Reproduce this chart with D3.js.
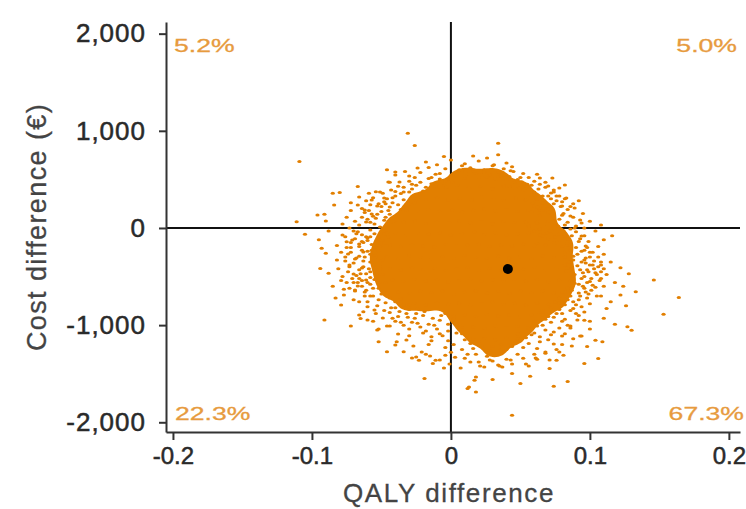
<!DOCTYPE html>
<html>
<head>
<meta charset="utf-8">
<script src="https://cdn.jsdelivr.net/npm/d3@7"></script>
<style>
  body { margin: 0; background: #fff; }
  svg { display: block; }
</style>
</head>
<body>
<script>
// Axis ticks
const xTicks = [-0.2, -0.1, 0, 0.1, 0.2];
const yTicks = [-2000, -1000, 0, 1000, 2000];

// Share of simulations falling in each quadrant of the plane
const quadrantLabels = ["5.2%", "5.0%", "22.3%", "67.3%"];
const quadrantCorners = ["nw", "ne", "sw", "se"];

// Mean incremental effect [QALY, cost €]
const meanDifference = [0.041, -423];

// Simulated [QALY difference, cost difference €] pairs in the high-density centre
const coreDraws = [
  [0.004,532],[0.012,556],[0.020,527],[0.028,549],[0.036,536],
  [-0.011,428],[-0.003,418],[0.005,436],[0.013,411],[0.021,428],[0.030,404],[0.038,432],[0.045,415],[0.053,421],
  [-0.026,305],[-0.018,296],[-0.010,312],[-0.002,287],[0.006,306],[0.015,291],[0.022,318],[0.031,299],[0.038,284],[0.047,309],[0.054,290],[0.062,296],
  [-0.032,181],[-0.024,176],[-0.016,190],[-0.008,171],[0.001,186],[0.008,165],[0.016,183],[0.024,197],[0.032,174],[0.040,188],[0.048,169],[0.056,182],[0.064,187],[0.071,174],
  [-0.042,63],[-0.034,58],[-0.026,71],[-0.018,49],[-0.010,66],[-0.001,54],[0.006,75],[0.014,52],[0.022,63],[0.030,44],[0.038,68],[0.046,57],[0.054,62],[0.062,55],[0.070,66],
  [-0.048,-62],[-0.040,-56],[-0.032,-71],[-0.024,-49],[-0.016,-64],[-0.008,-53],[0.000,-70],[0.008,-58],[0.017,-45],[0.024,-66],[0.032,-52],[0.040,-74],[0.048,-61],[0.056,-48],[0.064,-69],[0.072,-57],[0.079,-66],
  [-0.052,-181],[-0.044,-176],[-0.036,-188],[-0.028,-169],[-0.020,-184],[-0.012,-193],[-0.004,-171],[0.004,-186],[0.012,-178],[0.020,-164],[0.028,-190],[0.036,-175],[0.044,-183],[0.052,-168],[0.060,-191],[0.068,-177],[0.076,-186],[0.084,-174],
  [-0.054,-305],[-0.046,-297],[-0.038,-311],[-0.030,-289],[-0.022,-304],[-0.014,-318],[-0.006,-293],[0.002,-306],[0.010,-284],[0.018,-301],[0.026,-315],[0.034,-292],[0.042,-308],[0.050,-296],[0.058,-313],[0.066,-287],[0.074,-303],[0.082,-296],
  [-0.052,-424],[-0.044,-418],[-0.036,-432],[-0.028,-409],[-0.020,-426],[-0.012,-414],[-0.004,-437],[0.004,-421],[0.012,-406],[0.020,-429],[0.028,-416],[0.036,-434],[0.044,-411],[0.052,-425],[0.060,-408],[0.068,-431],[0.076,-419],[0.084,-413],
  [-0.050,-544],[-0.042,-537],[-0.034,-551],[-0.026,-528],[-0.018,-546],[-0.010,-533],[-0.002,-556],[0.006,-541],[0.014,-527],[0.022,-549],[0.030,-536],[0.038,-552],[0.046,-531],[0.054,-545],[0.062,-529],[0.070,-554],[0.078,-538],[0.086,-547],
  [-0.046,-663],[-0.038,-657],[-0.030,-671],[-0.022,-648],[-0.014,-665],[-0.006,-652],[0.002,-676],[0.010,-661],[0.018,-647],[0.026,-669],[0.034,-655],[0.042,-672],[0.050,-651],[0.058,-664],[0.066,-649],[0.074,-668],[0.082,-656],
  [-0.034,-781],[-0.026,-776],[-0.018,-791],[-0.010,-768],[-0.002,-785],[0.006,-772],[0.014,-796],[0.022,-779],[0.030,-765],[0.038,-788],[0.046,-774],[0.054,-792],[0.062,-770],[0.070,-784],[0.078,-776],
  [0.002,-905],[0.010,-897],[0.018,-912],[0.026,-889],[0.034,-906],[0.042,-893],[0.050,-915],[0.058,-899],[0.066,-893],
  [0.008,-1021],[0.016,-1016],[0.024,-1031],[0.032,-1008],[0.040,-1026],[0.048,-1013],[0.056,-1024],
  [0.016,-1143],[0.024,-1137],[0.032,-1151],[0.040,-1128],[0.048,-1139],
  [0.028,-1262],[0.036,-1255]
];

// Simulated [QALY difference, cost difference €] pairs around the centre and in the tails
const outerDraws = [
  [-0.031,975],[-0.026,850],[-0.109,683],[-0.005,735],[0.034,873],[0.034,753],
  [-0.046,598],[-0.040,546],[-0.016,622],[-0.011,553],[-0.022,570],[-0.004,610],[0.008,640],[0.016,580],[0.024,600],[0.031,650],[0.043,590],[0.052,560],[0.062,553],[-0.033,580],[0.042,529],[0.045,580],[0.082,443],[0.074,392],[0.051,477],[0.054,409],
  [0.008,590],[0.024,575],[-0.002,500],[0.032,505],
  [-0.014,520],[-0.008,505],[-0.012,460],[-0.005,440],[0.001,470],[-0.018,420],[-0.010,400],[0.040,500],[0.046,470],[0.050,520],[0.042,430],[0.049,415],[0.055,450],[-0.030,480],[-0.038,430],[-0.044,470],[-0.025,440],[0.060,480],[0.068,420],
  [-0.022,350],[-0.028,320],[-0.034,290],[-0.026,260],[-0.032,210],[-0.038,240],[-0.030,370],[-0.040,330],[0.058,340],[0.062,300],[0.060,230],[0.066,260],[0.064,200],[-0.046,300],[-0.054,374],[-0.049,357],[-0.059,357],[-0.067,426],[-0.052,250],[-0.061,280],[-0.044,215],[0.070,330],[0.076,280],[0.072,360],[0.082,300],[0.088,250],[0.079,220],[-0.085,357],[-0.080,364],
  [-0.062,160],[-0.056,120],[-0.050,170],[-0.044,140],[-0.038,110],[-0.048,80],[-0.055,40],[-0.060,90],[-0.042,30],[-0.066,30],[-0.051,10],
  [0.058,170],[0.064,130],[0.070,160],[0.062,70],[0.068,40],[0.074,100],[0.080,130],[0.076,20],[0.084,60],[0.088,110],[0.056,20],[0.090,20],
  [-0.084,237],[-0.067,237],[-0.096,134],[-0.091,141],[-0.111,65],[-0.090,72],[-0.075,110],[-0.072,180],[-0.078,40],[0.095,150],[0.100,70],[0.108,30],[0.096,0],
  [-0.070,-30],[-0.064,-70],[-0.058,-20],[-0.052,-110],[-0.046,-50],[-0.072,-150],[-0.066,-190],[-0.060,-130],[-0.054,-200],[-0.048,-160],[-0.076,-90],[-0.045,-90],
  [0.060,-30],[0.066,-80],[0.072,-20],[0.078,-60],[0.084,-110],[0.090,-40],[0.096,-80],[0.074,-150],[0.080,-190],[0.086,-170],[0.092,-140],[0.098,-200],[0.070,-110],[0.062,-160],
  [-0.105,-65],[-0.078,-72],[-0.075,-141],[-0.088,-30],[-0.082,-180],[-0.095,-120],[0.104,-30],[0.110,-120],[0.106,-190],[0.116,-80],
  [-0.072,-250],[-0.066,-290],[-0.060,-240],[-0.054,-280],[-0.049,-330],[-0.070,-360],[-0.063,-400],[-0.057,-350],[-0.051,-420],[-0.074,-450],[-0.068,-490],[-0.061,-470],[-0.055,-530],[-0.049,-480],[-0.070,-560],[-0.064,-600],[-0.058,-580],[-0.052,-620],[-0.047,-560],
  [0.082,-250],[0.088,-290],[0.094,-240],[0.100,-300],[0.085,-350],[0.091,-390],[0.097,-360],[0.103,-420],[0.083,-440],[0.089,-480],[0.095,-460],[0.101,-520],[0.086,-540],[0.092,-580],[0.098,-560],[0.104,-610],[0.084,-620],[0.082,-380],
  [-0.088,-467],[-0.093,-209],[-0.090,-261],[-0.094,-416],[-0.082,-330],[-0.079,-540],[-0.085,-600],[-0.077,-630],[0.110,-270],[0.115,-350],[0.122,-410],[0.112,-480],[0.128,-470],[0.118,-560],[0.133,-656],[0.146,-536],[0.124,-600],[0.108,-380],
  [-0.062,-660],[-0.056,-700],[-0.050,-680],[-0.044,-720],[-0.060,-760],[-0.053,-800],[-0.047,-770],[-0.040,-820],[-0.034,-790],[-0.030,-840],
  [0.080,-660],[0.086,-700],[0.092,-670],[0.098,-720],[0.075,-760],[0.082,-790],[0.088,-760],[0.094,-810],[0.100,-780],[0.078,-840],
  [-0.079,-794],[-0.077,-691],[-0.069,-639],[-0.070,-740],[-0.083,-720],[0.108,-700],[0.115,-760],[0.122,-690],[0.164,-715],[0.112,-830],[0.126,-800],
  [-0.044,-870],[-0.038,-910],[-0.032,-880],[-0.026,-930],[-0.020,-900],[-0.040,-960],[-0.034,-1000],[-0.028,-970],[-0.022,-1020],[-0.016,-990],[-0.010,-1040],[-0.046,-1010],[-0.004,-880],[0.002,-940],[0.006,-1000],[-0.002,-1060],[-0.008,-950],
  [0.064,-870],[0.070,-910],[0.076,-880],[0.082,-940],[0.060,-960],[0.066,-1000],[0.072,-970],[0.078,-1030],[0.056,-1040],[0.084,-1000],
  [-0.091,-948],[-0.066,-897],[-0.065,-931],[-0.063,-863],[-0.056,-960],[-0.072,-1010],[-0.052,-1040],[0.090,-880],[0.096,-950],[0.127,-1017],[0.130,-1052],[0.153,-887],[0.110,-930],[0.118,-990],[0.100,-1040],
  [-0.020,-1080],[-0.014,-1120],[-0.008,-1090],[-0.002,-1160],[-0.016,-1200],[-0.004,-1230],[0.002,-1200],[0.008,-1250],[0.048,-1090],[0.054,-1130],[0.060,-1080],[0.046,-1190],[0.052,-1230],[0.064,-1170],[0.040,-1250],[0.016,-1240],[0.030,-1220],[0.008,-1090],[0.010,-1150],
  [-0.052,-1172],[-0.046,-1275],[-0.034,-1275],[-0.039,-1172],[-0.030,-1110],[0.072,-1100],[0.080,-1200],[0.088,-1140],[0.098,-1220],[0.076,-1250],[0.104,-1155],[0.109,-1172],[0.094,-1113],
  [-0.025,-1327],[-0.023,-1361],[-0.013,-1395],[-0.011,-1361],[-0.004,-1310],[0.003,-1330],[0.012,-1300],[0.020,-1380],[0.026,-1320],[0.034,-1410],[0.040,-1350],[0.048,-1300],[0.056,-1420],[0.062,-1350],[0.081,-1309],[0.076,-1361],[0.096,-1395],[0.106,-1343],[0.071,-1446],[0.068,-1290],[-0.005,-1440],
  [-0.019,-1550],[0.013,-1636],[0.017,-1567],[0.018,-1533],[0.018,-1688],[0.012,-1653],[0.044,-1498],[0.037,-1430],[0.057,-1526],[0.044,-1928],[0.074,-1629],[0.084,-1580],[0.030,-1560],[0.050,-1600],
  // halo of the dense centre
  [-0.028,400],[-0.022,470],[-0.016,510],[-0.008,560],[0.000,540],[0.010,510],[0.018,560],[0.026,520],[0.034,570],[0.040,545],[0.048,500],[0.056,520],[0.058,440],[0.052,390],[0.063,400],[-0.020,380],[-0.034,370],[-0.014,455],[-0.004,480],[0.006,600],[0.014,620],[0.022,545],[0.038,610],[-0.026,520],[0.064,450],
  [-0.036,355],[-0.042,310],[-0.048,270],[-0.056,310],[-0.030,250],[-0.036,190],[-0.042,260],[-0.050,220],[-0.058,240],[-0.064,200],[-0.045,180],[-0.024,300],[-0.066,320],[-0.072,260],[-0.040,375],
  [0.060,370],[0.066,330],[0.072,300],[0.068,230],[0.074,250],[0.080,270],[0.086,220],[0.078,330],[0.084,190],[0.059,260],[0.062,215],[0.070,195],[0.092,280],
  [-0.064,110],[-0.058,60],[-0.053,140],[-0.047,110],[-0.041,70],[-0.069,70],[-0.059,180],[-0.073,0],[-0.067,-40],[-0.061,-90],[-0.055,-60],[-0.049,-130],[-0.063,-150],[-0.057,-170],[-0.069,-110],[-0.075,-200],[-0.051,-190],[-0.064,-230],[-0.058,-270],[-0.052,-240],[-0.076,-300],[-0.069,-320],[-0.063,-340],[-0.055,-310],[-0.050,-370],[-0.073,-400],[-0.066,-430],[-0.059,-420],[-0.053,-460],[-0.078,-500],[-0.071,-520],[-0.064,-540],[-0.058,-510],[-0.052,-570],[-0.073,-620],[-0.067,-560],[-0.061,-640],[-0.081,-420],[-0.079,-250],
  [0.066,180],[0.072,130],[0.078,90],[0.082,30],[0.086,-10],[0.094,50],[0.064,-10],[0.069,-50],[0.075,-90],[0.081,-30],[0.087,-80],[0.093,-110],[0.099,-140],[0.078,-130],[0.084,-160],[0.090,-200],[0.096,-230],[0.102,-250],[0.086,-230],[0.091,-270],[0.097,-310],[0.103,-340],[0.088,-330],[0.094,-350],[0.100,-380],[0.106,-400],[0.087,-410],[0.093,-430],[0.099,-450],[0.105,-480],[0.088,-500],[0.094,-520],[0.100,-550],[0.107,-540],[0.089,-570],[0.095,-600],[0.101,-640],[0.087,-640],[0.093,-700],[0.081,-700],[0.097,-660],[0.110,-600],[0.108,-450],
  [-0.058,-700],[-0.052,-740],[-0.046,-700],[-0.040,-760],[-0.036,-730],[-0.030,-790],[-0.024,-830],[-0.043,-820],[-0.048,-850],[-0.037,-860],[-0.031,-920],[-0.025,-880],[-0.019,-860],[-0.013,-930],[-0.007,-900],[-0.002,-990],[-0.042,-930],[-0.036,-970],[-0.030,-1040],[-0.024,-980],[-0.018,-1060],[-0.012,-1000],[-0.006,-1110],[-0.014,-1160],[0.004,-1080],[-0.054,-880],[-0.060,-810],[-0.066,-760],
  [0.078,-720],[0.084,-740],[0.090,-790],[0.072,-820],[0.080,-880],[0.086,-850],[0.092,-900],[0.068,-940],[0.074,-920],[0.080,-960],[0.086,-1010],[0.062,-1010],[0.068,-1050],[0.074,-1070],[0.082,-1090],[0.058,-1100],[0.064,-1120],[0.070,-1150],[0.050,-1160],[0.056,-1190],[0.062,-1240],[0.044,-1220],[0.036,-1200],[0.022,-1210],[0.028,-1260],[0.014,-1190],[0.020,-1160],[0.066,-850],
  [0.000,-1280],[0.010,-1340],[0.018,-1300],[0.030,-1370],[0.044,-1400],[0.052,-1340],[0.036,-1290],[0.060,-1300],[-0.018,-1300],[0.024,-1430],
  // draws just outside the dense centre
  [-0.060,-103],[-0.066,-165],[-0.071,-123],[-0.063,-247],[-0.068,-309],[-0.074,-268],[-0.058,-350],[-0.064,-412],[-0.070,-473],[-0.061,-535],[-0.067,-597],[-0.073,-380],[-0.076,-340],[-0.062,-300],[-0.057,-230],[-0.072,-200],[-0.065,-470],[-0.060,-560],[-0.069,-650],[-0.056,-620],[-0.062,-700],[-0.066,-520],[-0.075,-560],[-0.058,-450],[-0.064,-140],[-0.058,-90],[-0.068,-60],
  [-0.037,473],[-0.043,391],[-0.048,309],[-0.053,226],[-0.057,144],[-0.061,62],[-0.030,535],[-0.045,473],[-0.051,370],[-0.057,288],[-0.062,185],[-0.040,576],[-0.024,617],[-0.034,420],[-0.047,250],[-0.054,100],[-0.028,450],
  [-0.010,650],[0.000,700],[0.010,660],[0.020,690],[0.030,640],[0.040,670],[-0.018,680],[0.044,630],[0.016,740],[0.026,720],
  [0.064,514],[0.070,432],[0.076,329],[0.080,226],[0.086,123],[0.089,0],[0.073,514],[0.078,412],[0.083,309],[0.089,206],[0.093,82],[0.094,-82],[0.097,-185],[0.082,-82],[0.077,21],[0.068,470],[0.074,370],[0.081,150],
  [0.100,-250],[0.106,-300],[0.096,-330],[0.102,-380],[0.108,-350],[0.098,-430],[0.104,-460],[0.096,-500],[0.102,-590],[0.108,-520],[0.096,-620],[0.099,-680],[0.105,-700],[0.092,-740],[0.110,-420],
  [0.096,-864],[0.091,-947],[0.086,-1029],[0.080,-1111],[0.074,-1194],[0.068,-1276],[0.061,-1338],[0.054,-1399],[0.087,-1214],[0.078,-1276],[0.093,-1111],[0.071,-1358],[0.100,-960],[0.088,-830],
  [-0.055,-844],[-0.049,-926],[-0.044,-1008],[-0.038,-1091],[-0.032,-1152],[-0.027,-1214],[-0.021,-1276],[-0.015,-1317],[-0.008,-1358],[-0.001,-1399],[-0.060,-947],[-0.053,-1050],[-0.040,-1204],[-0.028,-1338],[0.007,-1440],[0.014,-1379],[0.021,-1420],[0.028,-1358],[0.035,-1420],[0.043,-1358]
];

const width = 746, height = 509;
const dotColor = "#e27f00";
const labelColor = "#e79b3e";
const axisColor = "#333";
const textColor = "#2a2a2a";
const fontFamily = "Liberation Sans, Arial, sans-serif";

const svg = d3.select("body").append("svg")
  .attr("width", width).attr("height", height);

const x = d3.scaleLinear().domain([-0.205, 0.208]).range([166, 740]);
const y = d3.scaleLinear().domain([-2100, 2120]).range([432, 22]);

const signed = f => d => (d < 0 ? "-" : "") + f(Math.abs(d));

// Zero reference lines (drawn under the points)
svg.append("line")
  .attr("x1", x.range()[0]).attr("x2", x.range()[1])
  .attr("y1", y(0)).attr("y2", y(0))
  .attr("stroke", "#111").attr("stroke-width", 2);
svg.append("line")
  .attr("x1", x(0)).attr("x2", x(0))
  .attr("y1", y.range()[1]).attr("y2", y.range()[0])
  .attr("stroke", "#111").attr("stroke-width", 2);

// Dense centre of the cloud as a kernel density region
const density = d3.contourDensity()
  .x(d => x(d[0])).y(d => y(d[1]))
  .size([width, height])
  .cellSize(2)
  .bandwidth(6)
  .thresholds([0.0032])(coreDraws);

svg.append("g")
  .selectAll("path")
  .data(density)
  .join("path")
  .attr("d", d3.geoPath())
  .attr("fill", dotColor);

// Individual simulation draws
svg.append("g")
  .selectAll("ellipse")
  .data(coreDraws.concat(outerDraws))
  .join("ellipse")
  .attr("cx", d => x(d[0]))
  .attr("cy", d => y(d[1]))
  .attr("rx", 2.1).attr("ry", 1.5)
  .attr("fill", dotColor);

// Mean point
svg.append("circle")
  .attr("cx", x(meanDifference[0]))
  .attr("cy", y(meanDifference[1]))
  .attr("r", 5)
  .attr("fill", "#000");

// Axes
const tickFont = size => g => g.selectAll("text")
  .attr("font-family", fontFamily)
  .attr("font-size", size)
  .attr("fill", textColor)
  .attr("stroke", textColor)
  .attr("stroke-width", 0.5);

const yAxis = svg.append("g")
  .attr("transform", `translate(${x.range()[0]},0)`)
  .call(d3.axisLeft(y).tickValues(yTicks).tickSize(7).tickSizeOuter(0).tickPadding(13)
    .tickFormat(signed(d3.format(","))))
  .call(tickFont(26));
yAxis.selectAll("text").attr("letter-spacing", 1);

const xAxis = svg.append("g")
  .attr("transform", `translate(0,${y.range()[0]})`)
  .call(d3.axisBottom(x).tickValues(xTicks).tickSize(8).tickSizeOuter(0).tickPadding(7)
    .tickFormat(signed(d => String(d))))
  .call(tickFont(24));

[yAxis, xAxis].forEach(g => {
  g.select(".domain").attr("stroke", axisColor).attr("stroke-width", 2);
  g.selectAll(".tick line").attr("stroke", axisColor).attr("stroke-width", 2);
});

// Axis titles
svg.append("text")
  .attr("x", 449).attr("y", 502)
  .attr("text-anchor", "middle")
  .attr("font-family", fontFamily)
  .attr("font-size", 26)
  .attr("letter-spacing", 1.6)
  .attr("fill", "#444")
  .attr("stroke", "#444").attr("stroke-width", 0.3)
  .text("QALY difference");

svg.append("text")
  .attr("transform", "translate(46,227) rotate(-90)")
  .attr("text-anchor", "middle")
  .attr("font-family", fontFamily)
  .attr("font-size", 27)
  .attr("letter-spacing", 1.4)
  .attr("fill", "#444")
  .attr("stroke", "#444").attr("stroke-width", 0.3)
  .text("Cost difference (€)");

// Quadrant shares in the corners
const cornerPos = {
  nw: { x: 174, y: 52, anchor: "start" },
  ne: { x: 737, y: 52, anchor: "end" },
  sw: { x: 175, y: 420, anchor: "start" },
  se: { x: 744, y: 420, anchor: "end" }
};
quadrantLabels.forEach((label, i) => {
  const p = cornerPos[quadrantCorners[i]];
  svg.append("g")
    .attr("transform", `translate(${p.x},${p.y}) scale(1.4,1)`)
    .append("text")
    .attr("text-anchor", p.anchor)
    .attr("font-family", fontFamily)
    .attr("font-size", 19)
    .attr("fill", labelColor)
    .attr("stroke", labelColor).attr("stroke-width", 0.3)
    .text(label);
});
</script>
</body>
</html>
